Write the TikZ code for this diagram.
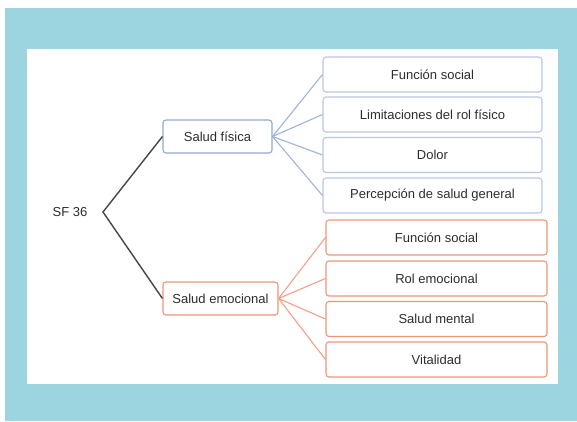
\documentclass[tikz,border=0pt]{standalone}
\usepackage{fontspec}
\setmainfont{Liberation Sans}
\definecolor{fondo}{RGB}{156,212,224}
\definecolor{texto}{RGB}{45,45,45}
\definecolor{tronco}{RGB}{70,70,70}
\definecolor{azulcaja}{RGB}{150,168,208}
\definecolor{azullinea}{RGB}{160,180,215}
\definecolor{narcaja}{RGB}{240,150,120}
\definecolor{narlinea}{RGB}{242,160,135}
\begin{document}
\begin{tikzpicture}[x=1pt,y=-1pt]
	\tikzstyle{every node}+=[font=\fontsize{13}{15}\selectfont, text=texto]
	\tikzstyle{caja}=[rounded corners=3pt, line width=1.1pt, inner sep=0pt, minimum height=35pt, fill=white]
	\tikzstyle{hojaazul}=[caja, draw=azulcaja!65, minimum width=219pt]
	\tikzstyle{hojanar}=[caja, draw=narcaja, minimum width=221pt]
	\useasboundingbox (0,0) rectangle (577,421);
	\fill [fondo] (5,8) rectangle (577,421);
	\fill [white] (27,49) rectangle (558,384);
	% raiz
	\node (sf) at (70,212) {SF 36};
	\coordinate (vertice) at (103,212);
	\node [caja, draw=azulcaja, minimum width=109pt, minimum height=33pt] (fisica) at (217.5,136.5) {Salud física};
	\node [caja, draw=narcaja, minimum width=115pt, minimum height=33pt] (emocional) at (220.5,298.5) {Salud emocional};
	\draw [tronco, line width=1.4pt] (fisica.west) -- (vertice) -- (emocional.west);
	% salud fisica
	\node [hojaazul] (f1) at (432.5,74.5) {Función social};
	\node [hojaazul] (f2) at (432.5,114.5) {Limitaciones del rol físico};
	\node [hojaazul] (f3) at (432.5,155) {Dolor};
	\node [hojaazul] (f4) at (432.5,195.5) {Percepción de salud general};
	\foreach \h in {f1,f2,f3,f4}
		\draw [azullinea, line width=1.1pt] (fisica.east) -- (\h.west);
	% salud emocional
	\node [hojanar] (e1) at (436.5,237.5) {Función social};
	\node [hojanar] (e2) at (436.5,278.5) {Rol emocional};
	\node [hojanar] (e3) at (436.5,319) {Salud mental};
	\node [hojanar] (e4) at (436.5,359.5) {Vitalidad};
	\foreach \h in {e1,e2,e3,e4}
		\draw [narlinea, line width=1.1pt] (emocional.east) -- (\h.west);
\end{tikzpicture}
\end{document}
